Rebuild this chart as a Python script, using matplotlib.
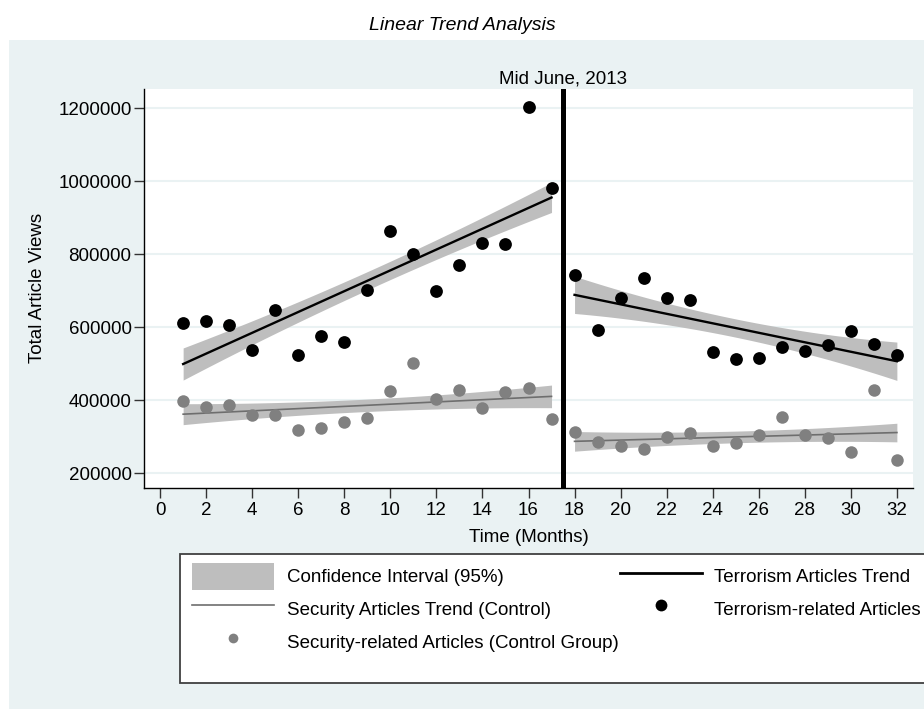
import numpy as np
import matplotlib
matplotlib.use("Agg")
import matplotlib.pyplot as plt
from matplotlib.patches import Patch, Rectangle
from matplotlib.lines import Line2D
from matplotlib.transforms import blended_transform_factory

plt.rcParams['font.family'] = ['Liberation Sans', 'DejaVu Sans']

# months and monthly article views
months = np.arange(1, 33)
terror_views = [613000, 617000, 607000, 538000, 648000, 525000, 575000, 560000,
                702000, 865000, 800000, 700000, 772000, 832000, 827000, 1205000,
                982000, 742000, 592000, 680000, 736000, 680000, 675000, 533000,
                513000, 517000, 545000, 535000, 552000, 590000, 555000, 525000]
security_views = [398000, 383000, 388000, 360000, 360000, 318000, 325000, 340000,
                  352000, 425000, 503000, 403000, 427000, 378000, 423000, 435000,
                  350000, 313000, 287000, 275000, 267000, 300000, 310000, 275000,
                  282000, 305000, 355000, 305000, 298000, 258000, 427000, 237000]
break_month = 17.5

# half-width of the shaded band (start, middle, end of each period)
terror_band_pre = [44000, 25000, 41000]
terror_band_post = [51000, 25000, 52500]
security_band_pre = [28700, 17000, 31000]
security_band_post = [27000, 16000, 25500]

y_ticks = [200000, 400000, 600000, 800000, 1000000, 1200000]
x_ticks = list(range(0, 33, 2))

BG = '#EAF2F3'
BAND = '#BEBEBE'
GRAY_DOT = '#808080'
GRAY_LINE = '#6E6E6E'
FS = 13.5


def trend_band(x, y, halfw):
    x = np.asarray(x, float)
    y = np.asarray(y, float)
    b, a = np.polyfit(x, y, 1)
    xs = np.linspace(x.min(), x.max(), 100)
    fit = a + b * xs
    knots = [x.min(), (x.min() + x.max()) / 2, x.max()]
    hw = np.polyval(np.polyfit(knots, halfw, 2), xs)
    return xs, fit, fit - hw, fit + hw


fig = plt.figure(figsize=(9.24, 7.09), dpi=100)
fig.patch.set_facecolor('white')
fig.patches.append(Rectangle((9 / 924, 0), 1 - 9 / 924, (709 - 40) / 709,
                             transform=fig.transFigure, facecolor=BG,
                             edgecolor='none', zorder=-2))

ax = fig.add_axes([144 / 924, 221 / 709, (913 - 144) / 924, (488 - 89) / 709])
ax.set_zorder(2)
ax.set_facecolor('white')

m = np.array(months)
tv = np.array(terror_views)
sv = np.array(security_views)
pre = m <= 17
post = m >= 18

for mask, sb, tb in [(pre, security_band_pre, terror_band_pre),
                     (post, security_band_post, terror_band_post)]:
    xs, f, lo, hi = trend_band(m[mask], sv[mask], sb)
    ax.fill_between(xs, lo, hi, color=BAND, lw=0, zorder=2)
    ax.plot(xs, f, color=GRAY_LINE, lw=1.2, zorder=3)
    xs, f, lo, hi = trend_band(m[mask], tv[mask], tb)
    ax.fill_between(xs, lo, hi, color=BAND, lw=0, zorder=2)
    ax.plot(xs, f, color='black', lw=1.7, zorder=3)

ax.plot(months, security_views, 'o', color=GRAY_DOT, ms=9, mec='none', zorder=4)
ax.plot(months, terror_views, 'o', color='black', ms=9.2, mec='none', zorder=5)

ax.axvline(break_month, color='black', lw=3.6, zorder=6)
trans = blended_transform_factory(ax.transData, ax.transAxes)
ax.text(break_month, 1.015, 'Mid June, 2013', transform=trans, ha='center',
        va='baseline', fontsize=FS)

ax.set_xlim(-0.7, 32.7)
ax.set_ylim(159700, 1253000)
ax.set_xticks(x_ticks)
ax.set_yticks(y_ticks)
ax.set_yticklabels([str(v) for v in y_ticks])
ax.tick_params(axis='both', labelsize=FS, length=7, width=1, color='#333333')
ax.tick_params(axis='x', pad=3)
ax.tick_params(axis='y', pad=2)
ax.grid(axis='y', color=BG, lw=1.5, zorder=1)
ax.set_axisbelow(True)
for side in ['top', 'right']:
    ax.spines[side].set_visible(False)
for side in ['left', 'bottom']:
    ax.spines[side].set_color('black')
    ax.spines[side].set_linewidth(1)

fig.text(0.5, (709 - 25) / 709, 'Linear Trend Analysis', ha='center',
         va='center', fontsize=14, style='italic')
fig.text(38 / 924, (709 - 288) / 709, 'Total Article Views', rotation=90,
         ha='center', va='center', fontsize=FS)
fig.text(528.5 / 924, (709 - 537) / 709, 'Time (Months)', ha='center',
         va='center', fontsize=FS)

# legend box
fig.patches.append(Rectangle((180 / 924, (709 - 683) / 709), (930 - 180) / 924,
                             (683 - 553.5) / 709, transform=fig.transFigure,
                             facecolor='white', edgecolor='#404040', lw=1.3,
                             zorder=1))
handles = [
    Patch(facecolor=BAND, edgecolor='none'),
    Line2D([], [], color=GRAY_LINE, lw=1.2),
    Line2D([], [], color=GRAY_DOT, marker='o', ls='none', ms=7, mec='none'),
    Line2D([], [], color='black', lw=2),
    Line2D([], [], color='black', marker='o', ls='none', ms=8.5, mec='none'),
]
labels = ['Confidence Interval (95%)', 'Security Articles Trend (Control)',
          'Security-related Articles (Control Group)', 'Terrorism Articles Trend',
          'Terrorism-related Articles']
leg = fig.legend(handles, labels, ncol=2, loc='upper left',
                 bbox_to_anchor=(192 / 924, (709 - 563) / 709),
                 frameon=False, fontsize=FS, borderpad=0, borderaxespad=0,
                 handlelength=4.37, handleheight=1.8, handletextpad=0.69,
                 labelspacing=0.33, columnspacing=0.05)
leg.set_zorder(5)

fig.savefig('out.png', dpi=100)
